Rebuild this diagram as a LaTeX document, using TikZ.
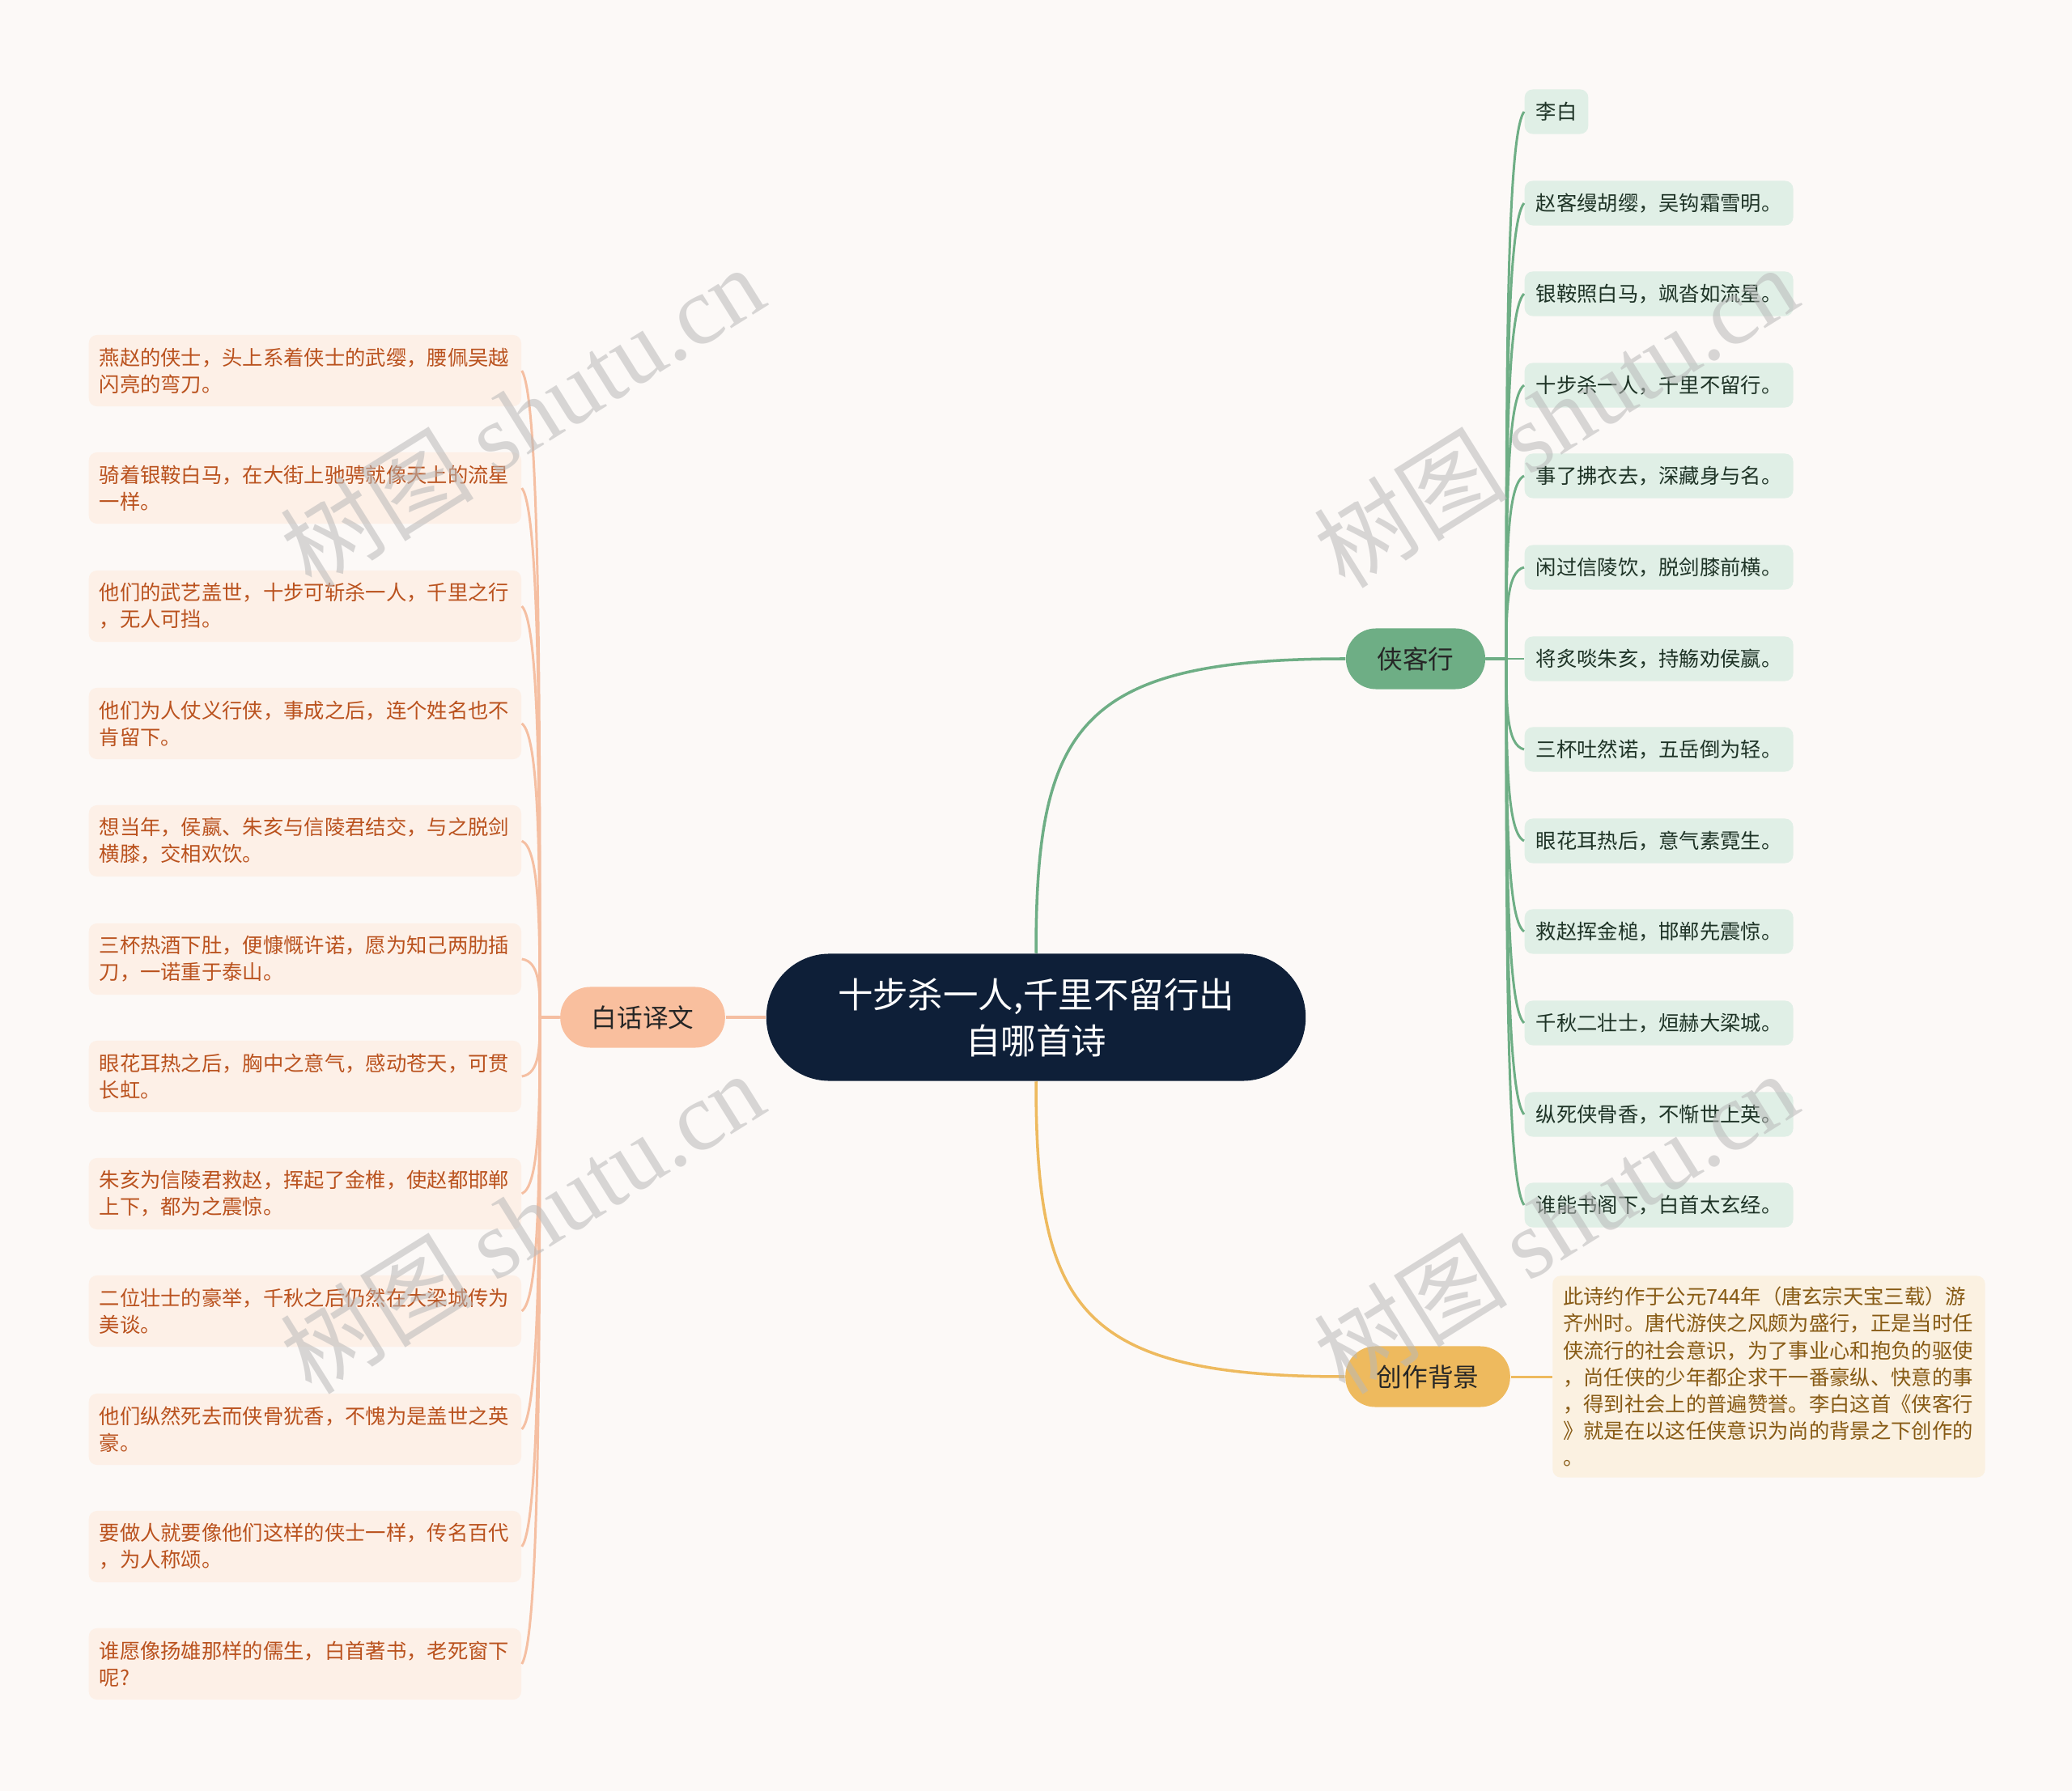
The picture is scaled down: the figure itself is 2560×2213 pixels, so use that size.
\documentclass[tikz,border=0pt]{standalone}
\usepackage{fontspec}
\setmainfont{Noto Sans CJK SC}
\newfontfamily\wmfont{Liberation Serif}
\usepackage{tikz}
\usetikzlibrary{positioning, calc, backgrounds}
\definecolor{mapBg}{HTML}{FCF9F7}
\definecolor{mapNavy}{HTML}{0E1F38}
\definecolor{mapInk}{HTML}{262626}
\definecolor{mapPeach}{HTML}{F9BF9E}
\definecolor{mapPeachLine}{HTML}{F5BFA2}
\definecolor{mapPeachFill}{HTML}{FDF0E7}
\definecolor{mapPeachText}{HTML}{BA521E}
\definecolor{mapGreen}{HTML}{6EAE85}
\definecolor{mapGreenFill}{HTML}{E0EFE6}
\definecolor{mapGreenText}{HTML}{1E3326}
\definecolor{mapGold}{HTML}{EEBA5E}
\definecolor{mapGoldFill}{HTML}{FBF1E1}
\definecolor{mapGoldText}{HTML}{875A14}

\begin{document}
\begin{tikzpicture}[
  x=0.01cm, y=-0.01cm,
  root/.style={
    rectangle, rounded corners=0.78cm,
    minimum width=6.66cm, minimum height=1.57cm,
    fill=mapNavy, text=white, align=center,
    font=\fontsize{12.35}{16.2}\selectfont
  },
  topic/.style={
    rectangle, rounded corners=0.37cm,
    minimum height=0.75cm, inner xsep=0.385cm,
    fill=#1, text=mapInk,
    font=\fontsize{9}{11}\selectfont
  },
  transleaf/.style={
    rectangle, rounded corners=0.1cm, anchor=west,
    text width=5.08cm, inner xsep=0.13cm, minimum height=0.88cm,
    fill=mapPeachFill, text=mapPeachText, align=left,
    font=\fontsize{7.2}{9.4}\selectfont
  },
  poemleaf/.style={
    rectangle, rounded corners=0.1cm, anchor=west,
    inner xsep=0.14cm, minimum height=0.55cm,
    fill=mapGreenFill, text=mapGreenText,
    font=\fontsize{7.2}{9}\selectfont
  },
  noteleaf/.style={
    rectangle, rounded corners=0.1cm, anchor=west,
    text width=5.08cm, inner xsep=0.13cm, minimum height=2.49cm,
    fill=mapGoldFill, text=mapGoldText, align=left,
    font=\fontsize{7.2}{9.4}\selectfont
  },
  link/.style={draw=#1, line width=1pt},
  twig/.style={draw=#1, line width=0.85pt},
  wmark/.style={text=gray!55, opacity=0.55, rotate=32,
    font=\fontsize{34}{34}\selectfont},
]

% Canvas
\useasboundingbox (0,0) rectangle (2560,2213);
\fill[mapBg] (0,0) rectangle (2560,2213);

% Root and main topics
\node[root] (title) at (1280,1257) {十步杀一人,千里不留行出\\自哪首诗};
\node[topic=mapPeach] (baihua) at (794,1257) {白话译文};
\node[topic=mapGreen] (xiake) at (1749,814) {侠客行};
\node[topic=mapGold] (chuangzuo) at (1764,1701) {创作背景};

\draw[link=mapPeachLine] (title.west) -- (baihua.east);
\draw[link=mapGreen] (title.north) .. controls +(0,-280) and +(-330,0) .. (xiake.west);
\draw[link=mapGold] (title.south) .. controls +(0,280) and +(-330,0) .. (chuangzuo.west);

% Spines
\coordinate (bhspine) at (667,1257);
\coordinate (xkspine) at (1861,814);

% Translation leaves
\foreach \k/\y/\txt in {
  1/458/{燕赵的侠士，头上系着侠士的武缨，腰佩吴越\\闪亮的弯刀。},
  2/603/{骑着银鞍白马，在大街上驰骋就像天上的流星\\一样。},
  3/749/{他们的武艺盖世，十步可斩杀一人，千里之行\\，无人可挡。},
  4/894/{他们为人仗义行侠，事成之后，连个姓名也不\\肯留下。},
  5/1039/{想当年，侯嬴、朱亥与信陵君结交，与之脱剑\\横膝，交相欢饮。},
  6/1185/{三杯热酒下肚，便慷慨许诺，愿为知己两肋插\\刀，一诺重于泰山。},
  7/1330/{眼花耳热之后，胸中之意气，感动苍天，可贯\\长虹。},
  8/1475/{朱亥为信陵君救赵，挥起了金椎，使赵都邯郸\\上下，都为之震惊。},
  9/1620/{二位壮士的豪举，千秋之后仍然在大梁城传为\\美谈。},
  10/1766/{他们纵然死去而侠骨犹香，不愧为是盖世之英\\豪。},
  11/1911/{要做人就要像他们这样的侠士一样，传名百代\\，为人称颂。},
  12/2056/{谁愿像扬雄那样的儒生，白首著书，老死窗下\\呢?}
}{
  \node[transleaf] (yw\k) at (109,\y) {\txt};
  \draw[twig=mapPeachLine] (baihua.west) -- (bhspine)
    .. controls ($(bhspine)!0.5!(bhspine |- yw\k.east)$) and ($(bhspine |- yw\k.east)!0.045!(bhspine)$) .. (yw\k.east);
}

% Poem leaves
\foreach \k/\y/\txt in {
  1/138/李白,
  2/251/赵客缦胡缨，吴钩霜雪明。,
  3/363/银鞍照白马，飒沓如流星。,
  4/476/十步杀一人，千里不留行。,
  5/588/事了拂衣去，深藏身与名。,
  6/701/闲过信陵饮，脱剑膝前横。,
  7/814/将炙啖朱亥，持觞劝侯嬴。,
  8/926/三杯吐然诺，五岳倒为轻。,
  9/1039/眼花耳热后，意气素霓生。,
  10/1151/救赵挥金槌，邯郸先震惊。,
  11/1264/千秋二壮士，烜赫大梁城。,
  12/1377/纵死侠骨香，不惭世上英。,
  13/1489/谁能书阁下，白首太玄经。
}{
  \node[poemleaf] (sj\k) at (1883,\y) {\txt};
  \draw[twig=mapGreen] (xiake.east) -- (xkspine)
    .. controls ($(xkspine)!0.5!(xkspine |- sj\k.west)$) and ($(xkspine |- sj\k.west)!0.045!(xkspine)$) .. (sj\k.west);
}

% Background note
\node[noteleaf, right=0.51cm of chuangzuo] (bj) {此诗约作于公元744年（唐玄宗天宝三载）游\\齐州时。唐代游侠之风颇为盛行，正是当时任\\侠流行的社会意识，为了事业心和抱负的驱使\\，尚任侠的少年都企求干一番豪纵、快意的事\\，得到社会上的普遍赞誉。李白这首《侠客行\\》就是在以这任侠意识为尚的背景之下创作的\\。};
\draw[twig=mapGold] (chuangzuo.east) -- (bj.west);

% Watermarks
\foreach \n/\x/\y in {a/645/514, b/645/1510, c/1922/514, d/1922/1510} {
  \node[wmark] (wm\n) at (\x,\y) {树图 {\wmfont shutu.cn}};
}

\end{tikzpicture}
\end{document}
